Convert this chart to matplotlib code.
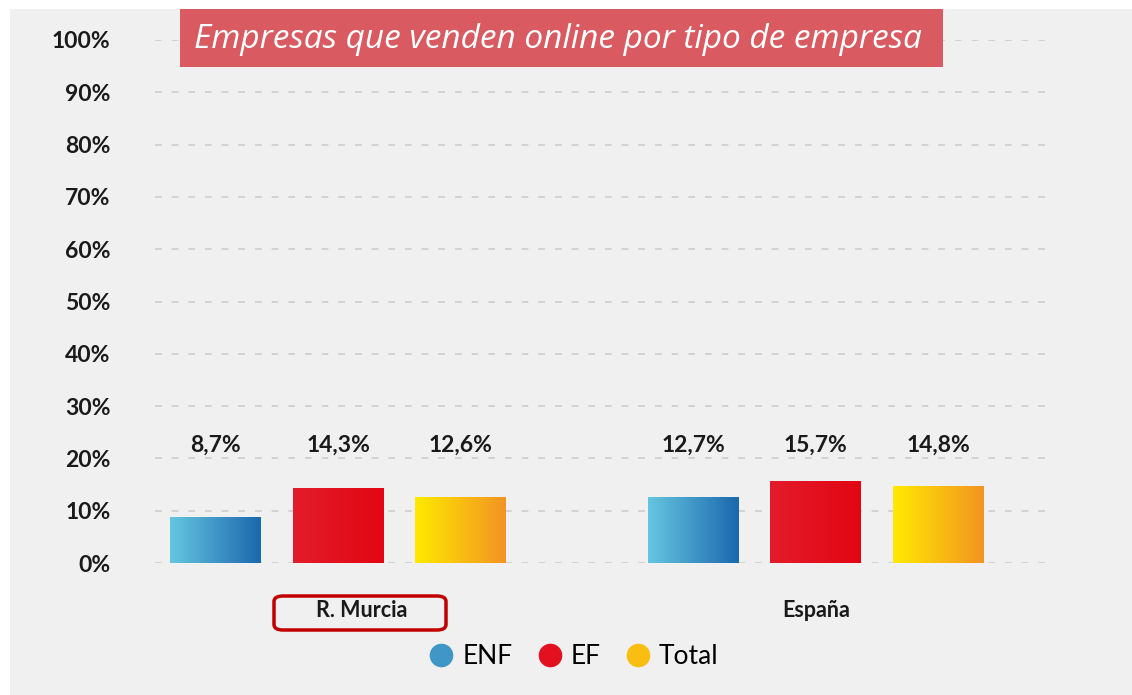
import matplotlib.pyplot as plt
import numpy as np
from matplotlib.colors import LinearSegmentedColormap
from matplotlib.patches import Rectangle, FancyBboxPatch
from matplotlib.lines import Line2D

# data
regions = ["R. Murcia", "España"]
series = ["ENF", "EF", "Total"]
enf = [8.7, 12.7]
ef = [14.3, 15.7]
total = [12.6, 14.8]
yticks = list(range(0, 101, 10))
title = "Empresas que venden online por tipo de empresa"

gradients = {
    "ENF": ["#66c6e0", "#1a68ae"],
    "EF": ["#e21c2b", "#e30613"],
    "Total": ["#ffea00", "#f39322"],
}

W, H = 1132, 695
fig = plt.figure(figsize=(W / 100, H / 100), dpi=100)
fig.patch.set_facecolor("white")

# grey panel
fig.patches.append(Rectangle((10 / W, 0), 1 - 10 / W, 1 - 9 / H,
                             transform=fig.transFigure, facecolor="#f0f0f0",
                             edgecolor="none", zorder=-5))

ax = fig.add_axes([155 / W, 1 - 563 / H, (1050 - 155) / W, (563 - 40) / H])
ax.set_zorder(2)
ax.set_facecolor("none")

for s in ax.spines.values():
    s.set_visible(False)

for t in yticks:
    ax.axhline(t, color="#cccccc", lw=1.2, ls=(0, (4, 6)), zorder=1)

x = np.arange(len(regions))
offset = 0.257
width = 0.19
grad = np.linspace(0, 1, 256).reshape(1, -1)
for i, (name, vals) in enumerate(zip(series, [enf, ef, total])):
    cmap = LinearSegmentedColormap.from_list(name, gradients[name])
    for xi, v in zip(x, vals):
        left = xi + (i - 1) * offset - width / 2
        bar = Rectangle((left, 0), width, v, facecolor="none", edgecolor="none")
        ax.add_patch(bar)
        im = ax.imshow(grad, cmap=cmap, aspect="auto", extent=(left, left + width, 0, v),
                       zorder=3)
        im.set_clip_path(bar)
        ax.text(xi + (i - 1) * offset, 22.5, f"{v:.1f}%".replace(".", ","),
                ha="center", va="center", fontfamily="Lato", fontweight="bold",
                fontsize=16.5, color="#1a1a1a")

ax.set_xlim(-0.383, 1.49)
ax.set_ylim(0, 100)
ax.set_yticks(yticks)
ax.set_yticklabels([f"{t}%" for t in yticks], fontfamily="Lato", fontweight="bold",
                   fontsize=16.5, color="#1a1a1a")
ax.tick_params(axis="y", length=0, pad=32)
ax.set_xticks([])

# region labels
label_x = [0.05, 1.0]
for lx, r in zip(label_x, regions):
    ax.text(lx, -9, r, ha="center", va="center", fontfamily="Lato", fontweight="bold",
            fontsize=15.5, color="#1a1a1a")

# red box around R. Murcia
fig.patches.append(FancyBboxPatch((274 / W, 1 - 630 / H), (446 - 274) / W, (630 - 596) / H,
                                  boxstyle="round,pad=0,rounding_size=0.008",
                                  transform=fig.transFigure, facecolor="none",
                                  edgecolor="#c00000", lw=2.5, zorder=5))

# title box
fig.patches.append(Rectangle((180 / W, 1 - 67 / H), (943 - 180) / W, (67 - 9) / H,
                             transform=fig.transFigure, facecolor="#d95b61",
                             edgecolor="none", zorder=5))
fig.text(558 / W, 1 - 39 / H, title, ha="center", va="center", color="white",
         fontfamily="Open Sans", fontstyle="italic", fontsize=24, zorder=6)

# legend
handles = [Line2D([], [], marker="o", ls="none", markersize=17,
                  markerfacecolor=LinearSegmentedColormap.from_list(n, gradients[n])(0.5),
                  markeredgecolor="none") for n in series]
fig.legend(handles, series, loc="center", bbox_to_anchor=(572 / W, 1 - 657 / H),
           ncol=3, frameon=False, handletextpad=0.2, columnspacing=0.8,
           handlelength=1.2, prop={"family": "Lato", "size": 19})

fig.savefig("out.png", dpi=100)
